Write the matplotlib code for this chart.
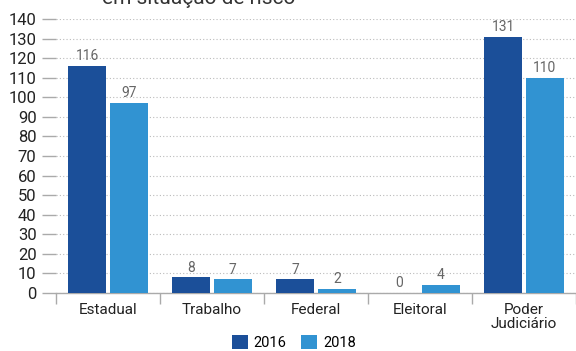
import matplotlib
matplotlib.use("Agg")
import matplotlib.pyplot as plt
import numpy as np
from matplotlib.patches import Patch

categories = ["Estadual", "Trabalho", "Federal", "Eleitoral", "Poder\nJudiciário"]
series_names = ["2016", "2018"]
values_2016 = [116, 8, 7, 0, 131]
values_2018 = [97, 7, 2, 4, 110]
yticks = list(range(0, 141, 10))
title = "em situação de risco"

c2016 = "#1b4f99"
c2018 = "#3193d2"

plt.rcParams['font.family'] = ['Roboto', 'DejaVu Sans']

fig = plt.figure(figsize=(5.76, 3.51), dpi=100)
ax = fig.add_axes([56/576, 1-293/351, 1-56/576, (293-19)/351])

x = np.arange(len(categories))
w = 0.365
off = 0.2
b1 = ax.bar(x - off, values_2016, w, color=c2016, zorder=3)
b2 = ax.bar(x + off, values_2018, w, color=c2018, zorder=3)

for bars, vals in ((b1, values_2016), (b2, values_2018)):
    for r, v in zip(bars, vals):
        ax.annotate(str(v), (r.get_x() + r.get_width()/2, v), xytext=(0, 2),
                    textcoords="offset points", ha="center", va="bottom",
                    fontsize=10, color="#666666")

ax.set_xlim(-0.5, 4.47)
ax.set_ylim(0, 140)
ax.set_yticks(yticks)
ax.set_yticklabels([str(t) for t in yticks], fontsize=12, color="#222222")
ax.tick_params(axis='y', length=10, width=1, color="#aaaaaa", pad=4)
ax.yaxis.grid(True, linestyle=(0, (1, 2)), color="#bbbbbb", linewidth=0.8, zorder=0)

ax.set_xticks(x)
ax.set_xticklabels(categories, fontsize=11, color="#222222", linespacing=1.0)
ax.tick_params(axis='x', which='major', length=0, pad=7)
ax.set_xticks(np.arange(-0.5, 4.6, 1.0), minor=True)
ax.tick_params(axis='x', which='minor', length=8, width=1, color="#aaaaaa")

for s in ("top", "right", "left"):
    ax.spines[s].set_visible(False)
ax.spines["bottom"].set_color("#aaaaaa")
ax.spines["bottom"].set_linewidth(1)

handles = [Patch(facecolor=c2016), Patch(facecolor=c2018)]
fig.legend(handles, series_names, loc="lower center", bbox_to_anchor=(0.51, -0.035),
           ncol=2, frameon=False, fontsize=10.5, handlelength=1.1, handleheight=1.1,
           handletextpad=0.4, columnspacing=1.0)

fig.text(0.345, 1 - 4/351, title, ha="center", va="baseline", fontsize=15,
         color="#333333")

fig.savefig("out.png", dpi=100)
